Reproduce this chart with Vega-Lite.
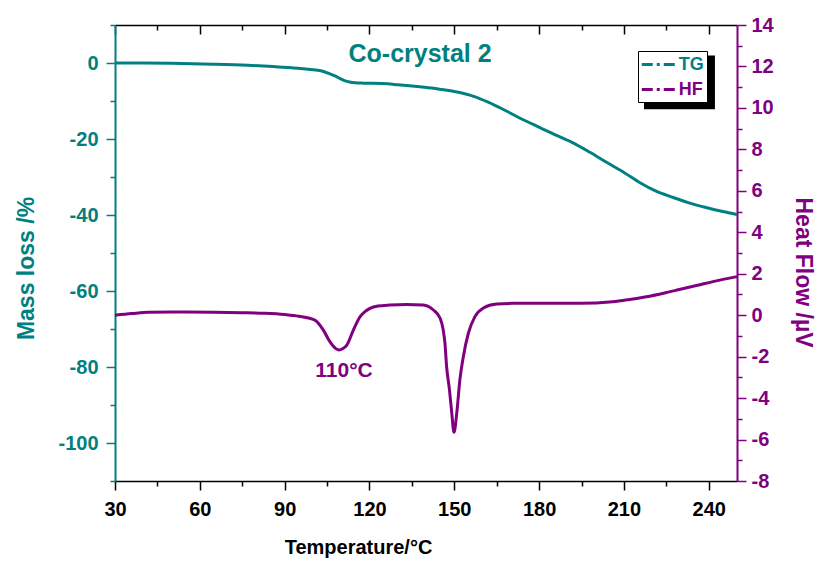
{
  "$schema": "https://vega.github.io/schema/vega-lite/v6.json",
  "width": 622,
  "height": 456,
  "autosize": {"type": "none"},
  "padding": {"left": 115, "top": 25, "right": 80, "bottom": 80},
  "background": "white",
  "config": {
    "view": {"stroke": null},
    "font": "Liberation Sans",
    "axis": {"grid": false, "labelFlush": false, "labelFontWeight": "bold", "titleFontWeight": "bold", "labelFontSize": 20, "titleFontSize": 23, "tickWidth": 1.5}
  },
  "datasets": {
    "tg": [
      {"t": 30, "v": 0}, {"t": 40, "v": 0.0}, {"t": 53.6, "v": -0.1}, {"t": 65, "v": -0.3},
      {"t": 77, "v": -0.6}, {"t": 86, "v": -0.95}, {"t": 94.7, "v": -1.4}, {"t": 100, "v": -1.8},
      {"t": 103.2, "v": -2.1}, {"t": 105.5, "v": -2.7}, {"t": 107.8, "v": -3.4}, {"t": 109.6, "v": -4.1},
      {"t": 111.4, "v": -4.7}, {"t": 113, "v": -5.0}, {"t": 114.9, "v": -5.2}, {"t": 118, "v": -5.3},
      {"t": 124.4, "v": -5.4}, {"t": 130, "v": -5.7}, {"t": 136, "v": -6.1}, {"t": 142, "v": -6.6},
      {"t": 145.7, "v": -7.0}, {"t": 150, "v": -7.5}, {"t": 156.6, "v": -8.7}, {"t": 162, "v": -10.3},
      {"t": 168.6, "v": -12.7}, {"t": 174, "v": -14.8}, {"t": 180.3, "v": -17.0}, {"t": 186, "v": -19.0},
      {"t": 192, "v": -21.0}, {"t": 198, "v": -23.5}, {"t": 204, "v": -26.2}, {"t": 210, "v": -28.8},
      {"t": 215.7, "v": -31.5}, {"t": 221, "v": -33.6}, {"t": 227.4, "v": -35.4}, {"t": 233, "v": -36.8},
      {"t": 239.4, "v": -38.1}, {"t": 245, "v": -39.1}, {"t": 250, "v": -39.9}
    ],
    "hf": [
      {"t": 30, "v": 0.0}, {"t": 36, "v": 0.08}, {"t": 42, "v": 0.14}, {"t": 55, "v": 0.15},
      {"t": 65, "v": 0.14}, {"t": 75, "v": 0.12}, {"t": 83, "v": 0.09}, {"t": 90, "v": 0.03},
      {"t": 95, "v": -0.05}, {"t": 100.7, "v": -0.24}, {"t": 103.7, "v": -0.72}, {"t": 106, "v": -1.28},
      {"t": 108, "v": -1.6}, {"t": 109.3, "v": -1.68}, {"t": 110.5, "v": -1.62}, {"t": 112, "v": -1.44},
      {"t": 114.3, "v": -0.72}, {"t": 116.7, "v": -0.07}, {"t": 118.5, "v": 0.18}, {"t": 120.2, "v": 0.33},
      {"t": 123, "v": 0.44}, {"t": 127.3, "v": 0.49}, {"t": 133, "v": 0.52}, {"t": 139, "v": 0.49},
      {"t": 142.6, "v": 0.25}, {"t": 145, "v": -0.15}, {"t": 146.1, "v": -0.72}, {"t": 146.7, "v": -1.35},
      {"t": 147.3, "v": -2.5}, {"t": 148.3, "v": -3.6}, {"t": 149.1, "v": -4.7}, {"t": 149.9, "v": -5.65},
      {"t": 150.9, "v": -4.7}, {"t": 152.0, "v": -3.1}, {"t": 153.2, "v": -2.0}, {"t": 155.0, "v": -0.86},
      {"t": 157.3, "v": -0.07}, {"t": 160.3, "v": 0.35}, {"t": 165, "v": 0.54}, {"t": 170.8, "v": 0.57},
      {"t": 180, "v": 0.57}, {"t": 194.5, "v": 0.57}, {"t": 206, "v": 0.65}, {"t": 212, "v": 0.76},
      {"t": 218, "v": 0.89}, {"t": 224, "v": 1.06}, {"t": 230, "v": 1.25}, {"t": 236, "v": 1.44},
      {"t": 241.5, "v": 1.62}, {"t": 250, "v": 1.86}
    ]
  },
  "layer": [
    {
      "layer": [
        {
          "data": {"values": [{"t": 217.1, "t2": 242.2, "v": 2.0, "v2": -12.2}]},
          "mark": {"type": "rect", "color": "black"},
          "encoding": {
            "x": {"field": "t", "type": "quantitative", "scale": {"domain": [30, 250], "nice": false, "zero": false}},
            "x2": {"field": "t2"},
            "y": {"field": "v", "type": "quantitative", "scale": {"domain": [-110, 10], "nice": false, "zero": false}},
            "y2": {"field": "v2"}
          }
        },
        {
          "data": {"name": "tg"},
          "mark": {"type": "line", "strokeWidth": 3, "interpolate": "monotone"},
          "encoding": {
            "x": {
              "field": "t", "type": "quantitative",
              "scale": {"domain": [30, 250], "nice": false, "zero": false},
              "axis": {
                "orient": "bottom",
                "values": [30, 60, 90, 120, 150, 180, 210, 240],
                "tickSize": 9, "labelPadding": 9, "labelFlush": false,
                "domainColor": "black", "domainWidth": 1.5, "tickColor": "black", "labelColor": "black",
                "title": "Temperature/°C", "titleColor": "black", "titleFontSize": 20,
                "titleX": 243, "titleY": 72, "titleBaseline": "alphabetic"
              }
            },
            "y": {
              "field": "v", "type": "quantitative",
              "scale": {"domain": [-110, 10], "nice": false, "zero": false},
              "axis": {
                "orient": "left",
                "values": [-100, -80, -60, -40, -20, 0],
                "labelExpr": "replace(datum.label, '−', '-')",
                "tickSize": 9, "labelPadding": 8, "labelFlush": false,
                "domainColor": "#008080", "domainWidth": 2, "tickColor": "#008080", "labelColor": "#008080",
                "title": "Mass loss /%", "titleColor": "#008080",
                "titleX": -82, "titleY": 243, "titleBaseline": "alphabetic", "titleAngle": 270
              }
            },
            "color": {
              "datum": "TG", "type": "nominal",
              "scale": {"domain": ["TG", "HF"], "range": ["#008080", "#800080"]},
              "legend": {
                "orient": "none", "legendX": 523, "legendY": 26, "title": null,
                "symbolType": "M-2,0H2", "symbolSize": 306, "symbolStrokeWidth": 3,
                "symbolDash": [11, 4, 3, 4], "symbolOffset": 7.75,
                "labelFontSize": 18, "labelFontWeight": "bold", "labelFont": "Liberation Sans",
                "padding": 3, "rowPadding": 5, "labelOffset": 9,
                "strokeColor": "black", "fillColor": "white", "cornerRadius": 0,
                "encode": {"labels": {"update": {"fill": {"signal": "datum.value === 'TG' ? '#008080' : '#800080'"}}}}
              }
            }
          }
        },
        {
          "data": {"values": [{"t": 137.9, "v": 0.2, "label": "Co-crystal 2"}]},
          "mark": {"type": "text", "fontSize": 25, "fontWeight": "bold", "color": "#008080", "baseline": "alphabetic", "align": "center"},
          "encoding": {
            "x": {"field": "t", "type": "quantitative", "scale": {"domain": [30, 250], "nice": false, "zero": false}},
            "y": {"field": "v", "type": "quantitative", "scale": {"domain": [-110, 10], "nice": false, "zero": false}},
            "text": {"field": "label"}
          }
        }
      ]
    },
    {
      "data": {"name": "tg"},
      "mark": {"type": "point", "opacity": 0},
      "encoding": {
        "x": {
          "field": "t", "type": "quantitative",
          "scale": {"domain": [30, 250], "nice": false, "zero": false},
          "axis": {"orient": "bottom", "values": [45, 75, 105, 135, 165, 195, 225], "tickSize": 5, "labels": false, "domain": false, "tickColor": "black", "title": null}
        },
        "y": {
          "field": "v", "type": "quantitative",
          "scale": {"domain": [-110, 10], "nice": false, "zero": false},
          "axis": {"orient": "left", "values": [-110, -90, -70, -50, -30, -10, 10], "tickSize": 5, "labels": false, "domain": false, "tickColor": "#008080", "title": null}
        }
      }
    },
    {
      "layer": [
        {
          "data": {"name": "hf"},
          "mark": {"type": "line", "strokeWidth": 3, "interpolate": "monotone"},
          "encoding": {
            "x": {
              "field": "t", "type": "quantitative",
              "scale": {"domain": [30, 250], "nice": false, "zero": false},
              "axis": {
                "orient": "top",
                "values": [30, 60, 90, 120, 150, 180, 210, 240],
                "labels": false, "tickSize": -9,
                "domainColor": "black", "domainWidth": 1.5, "tickColor": "black",
                "title": null
              }
            },
            "y": {
              "field": "v", "type": "quantitative",
              "scale": {"domain": [-8, 14], "nice": false, "zero": false},
              "axis": {
                "orient": "right",
                "values": [-8, -6, -4, -2, 0, 2, 4, 6, 8, 10, 12, 14],
                "labelExpr": "replace(datum.label, '−', '-')",
                "tickSize": 9, "labelPadding": 5, "labelFlush": false,
                "domainColor": "#800080", "domainWidth": 2, "tickColor": "#800080", "labelColor": "#800080",
                "title": "Heat Flow /µV", "titleColor": "#800080",
                "titleX": 58, "titleY": 247, "titleBaseline": "alphabetic", "titleAngle": 90
              }
            },
            "color": {"datum": "HF", "type": "nominal"}
          }
        },
        {
          "data": {"values": [{"t": 111, "v": -3.0, "label": "110°C"}]},
          "mark": {"type": "text", "fontSize": 21, "fontWeight": "bold", "color": "#800080", "baseline": "alphabetic", "align": "center"},
          "encoding": {
            "x": {"field": "t", "type": "quantitative", "scale": {"domain": [30, 250], "nice": false, "zero": false}},
            "y": {"field": "v", "type": "quantitative", "scale": {"domain": [-8, 14], "nice": false, "zero": false}},
            "text": {"field": "label"}
          }
        }
      ]
    },
    {
      "data": {"name": "hf"},
      "mark": {"type": "point", "opacity": 0},
      "encoding": {
        "x": {
          "field": "t", "type": "quantitative",
          "scale": {"domain": [30, 250], "nice": false, "zero": false},
          "axis": {"orient": "top", "values": [45, 75, 105, 135, 165, 195, 225], "tickSize": -5, "labels": false, "domain": false, "tickColor": "black", "title": null}
        },
        "y": {
          "field": "v", "type": "quantitative",
          "scale": {"domain": [-8, 14], "nice": false, "zero": false},
          "axis": {"orient": "right", "values": [-7, -5, -3, -1, 1, 3, 5, 7, 9, 11, 13], "tickSize": 5, "labels": false, "domain": false, "tickColor": "#800080", "title": null}
        }
      }
    }
  ],
  "resolve": {"scale": {"y": "independent"}, "axis": {"x": "independent", "y": "independent"}}
}
